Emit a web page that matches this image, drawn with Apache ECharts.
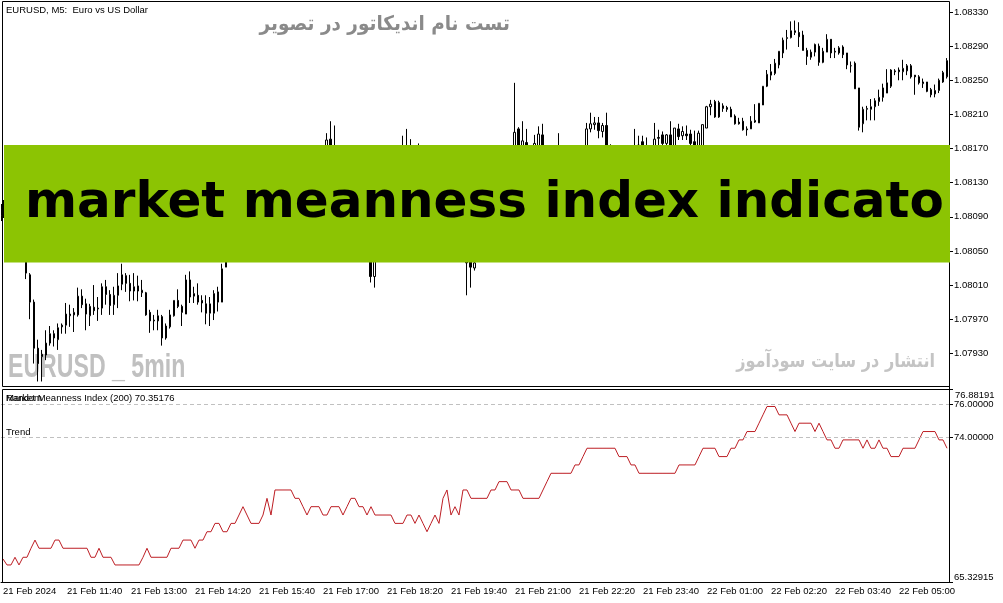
<!DOCTYPE html>
<html><head><meta charset="utf-8">
<script src="https://cdn.jsdelivr.net/npm/echarts@6/dist/echarts.min.js"></script>
<style>html,body{margin:0;padding:0;background:#fff}#c{width:1003px;height:603px}</style>
</head><body><div id="c"></div>
<script>
// ---- data (EURUSD M5, 237 bars from 21 Feb 10:20) ----
const opens = [
1.08098,1.08092,1.08100,1.08094,1.08085,1.08078,1.08068,1.08022,1.07990,1.07936,
1.07926,1.07928,1.07942,1.07953,1.07946,1.07961,1.07963,1.07974,1.07975,1.07975,
1.07997,1.07988,1.07974,1.07984,1.07982,1.07983,1.08008,1.07999,1.07987,1.07998,
1.08011,1.08021,1.08012,1.08003,1.08009,1.08001,1.08001,1.07978,1.07968,1.07968,
1.07973,1.07948,1.07961,1.07974,1.07992,1.07985,1.07976,1.08016,1.07997,1.07998,
1.07992,1.07988,1.07977,1.07977,1.07990,1.07990,1.08031,1.08066,1.08078,1.08090,
1.08086,1.08100,1.08108,1.08102,1.08112,1.08120,1.08114,1.08124,1.08130,1.08122,
1.08128,1.08136,1.08130,1.08138,1.08144,1.08136,1.08142,1.08150,1.08146,1.08155,
1.08160,1.08168,1.08181,1.08165,1.08150,1.08140,1.08126,1.08118,1.08104,1.08096,
1.08080,1.08072,1.08058,1.08020,1.08045,1.08060,1.08075,1.08090,1.08108,1.08125,
1.08140,1.08155,1.08166,1.08156,1.08160,1.08150,1.08140,1.08130,1.08122,1.08110,
1.08102,1.08092,1.08084,1.08076,1.08070,1.08064,1.08060,1.08045,1.08030,1.08042,
1.08055,1.08070,1.08086,1.08100,1.08112,1.08125,1.08134,1.08145,1.08155,1.08193,
1.08160,1.08177,1.08168,1.08162,1.08170,1.08186,1.08160,1.08150,1.08140,1.08148,
1.08156,1.08146,1.08138,1.08130,1.08140,1.08150,1.08158,1.08193,1.08198,1.08200,
1.08190,1.08197,1.08160,1.08152,1.08144,1.08150,1.08142,1.08150,1.08158,1.08164,
1.08178,1.08166,1.08160,1.08168,1.08183,1.08186,1.08176,1.08186,1.08165,1.08193,
1.08185,1.08187,1.08187,1.08178,1.08165,1.08165,1.08194,1.08219,1.08225,1.08207,
1.08220,1.08218,1.08216,1.08208,1.08201,1.08202,1.08193,1.08193,1.08201,1.08200,
1.08221,1.08243,1.08256,1.08258,1.08268,1.08282,1.08299,1.08300,1.08306,1.08306,
1.08303,1.08285,1.08277,1.08283,1.08290,1.08271,1.08283,1.08298,1.08284,1.08282,
1.08289,1.08282,1.08267,1.08270,1.08241,1.08199,1.08216,1.08216,1.08219,1.08225,
1.08230,1.08235,1.08243,1.08261,1.08262,1.08260,1.08261,1.08267,1.08256,1.08254,
1.08246,1.08248,1.08239,1.08234,1.08238,1.08248,1.08254];
const closes = [
1.08092,1.08100,1.08094,1.08085,1.08078,1.08068,1.08024,1.07990,1.07936,1.07918,
1.07929,1.07942,1.07953,1.07948,1.07960,1.07963,1.07976,1.07976,1.07978,1.07997,
1.07987,1.07976,1.07985,1.07980,1.07983,1.08008,1.07999,1.07986,1.07998,1.08009,
1.08022,1.08012,1.08003,1.08008,1.08003,1.08004,1.07975,1.07968,1.07969,1.07974,
1.07948,1.07962,1.07975,1.07992,1.07985,1.07978,1.08016,1.07996,1.08000,1.07990,
1.07989,1.07977,1.07988,1.08000,1.08002,1.08029,1.08066,1.08078,1.08090,1.08086,
1.08100,1.08108,1.08102,1.08112,1.08120,1.08114,1.08124,1.08130,1.08122,1.08128,
1.08136,1.08130,1.08138,1.08144,1.08136,1.08142,1.08150,1.08146,1.08155,1.08160,
1.08168,1.08180,1.08165,1.08150,1.08140,1.08126,1.08118,1.08104,1.08096,1.08080,
1.08072,1.08058,1.08020,1.08045,1.08060,1.08075,1.08090,1.08108,1.08125,1.08140,
1.08155,1.08166,1.08156,1.08160,1.08150,1.08140,1.08130,1.08122,1.08110,1.08102,
1.08092,1.08084,1.08076,1.08070,1.08064,1.08060,1.08036,1.08031,1.08036,1.08055,
1.08070,1.08086,1.08100,1.08112,1.08125,1.08134,1.08145,1.08155,1.08189,1.08158,
1.08179,1.08168,1.08160,1.08176,1.08187,1.08160,1.08150,1.08140,1.08148,1.08156,
1.08146,1.08138,1.08130,1.08140,1.08150,1.08158,1.08193,1.08199,1.08200,1.08191,
1.08197,1.08160,1.08152,1.08144,1.08150,1.08142,1.08150,1.08158,1.08164,1.08174,
1.08166,1.08160,1.08168,1.08181,1.08182,1.08176,1.08186,1.08165,1.08194,1.08184,
1.08190,1.08185,1.08176,1.08168,1.08188,1.08198,1.08219,1.08222,1.08207,1.08224,
1.08217,1.08216,1.08207,1.08199,1.08199,1.08192,1.08192,1.08202,1.08203,1.08223,
1.08243,1.08257,1.08260,1.08270,1.08284,1.08297,1.08300,1.08308,1.08308,1.08301,
1.08285,1.08278,1.08283,1.08292,1.08271,1.08284,1.08298,1.08282,1.08283,1.08288,
1.08280,1.08268,1.08267,1.08240,1.08195,1.08216,1.08217,1.08219,1.08226,1.08230,
1.08241,1.08247,1.08262,1.08260,1.08260,1.08264,1.08267,1.08254,1.08254,1.08247,
1.08248,1.08237,1.08233,1.08238,1.08250,1.08259,1.08273];
const lows = [
1.08085,1.08088,1.08086,1.08078,1.08070,1.08060,1.08017,1.07970,1.07918,1.07897,
1.07897,1.07922,1.07939,1.07938,1.07934,1.07953,1.07953,1.07961,1.07955,1.07973,
1.07983,1.07957,1.07962,1.07975,1.07968,1.07975,1.07987,1.07975,1.07975,1.07983,
1.08004,1.08002,1.07991,1.07992,1.07991,1.07996,1.07974,1.07954,1.07957,1.07957,
1.07939,1.07946,1.07959,1.07973,1.07983,1.07962,1.07976,1.07989,1.07989,1.07987,
1.07978,1.07964,1.07962,1.07969,1.07979,1.07990,1.08031,1.08060,1.08072,1.08080,
1.08082,1.08094,1.08096,1.08098,1.08106,1.08108,1.08110,1.08118,1.08116,1.08115,
1.08122,1.08124,1.08126,1.08132,1.08130,1.08130,1.08136,1.08140,1.08140,1.08148,
1.08152,1.08160,1.08155,1.08142,1.08132,1.08120,1.08110,1.08098,1.08090,1.08074,
1.08064,1.08050,1.08013,1.08007,1.08042,1.08054,1.08070,1.08086,1.08102,1.08120,
1.08135,1.08150,1.08148,1.08150,1.08142,1.08134,1.08124,1.08115,1.08104,1.08096,
1.08086,1.08078,1.08070,1.08062,1.08056,1.08050,1.07998,1.08007,1.08027,1.08040,
1.08050,1.08066,1.08080,1.08094,1.08106,1.08118,1.08128,1.08140,1.08150,1.08150,
1.08152,1.08160,1.08150,1.08156,1.08165,1.08152,1.08142,1.08134,1.08136,1.08142,
1.08140,1.08130,1.08124,1.08126,1.08134,1.08144,1.08152,1.08189,1.08192,1.08182,
1.08183,1.08152,1.08144,1.08138,1.08136,1.08134,1.08136,1.08144,1.08150,1.08158,
1.08158,1.08152,1.08154,1.08162,1.08170,1.08170,1.08172,1.08158,1.08160,1.08180,
1.08180,1.08180,1.08170,1.08160,1.08160,1.08160,1.08194,1.08209,1.08206,1.08206,
1.08213,1.08213,1.08207,1.08198,1.08198,1.08191,1.08185,1.08193,1.08200,1.08200,
1.08221,1.08242,1.08250,1.08256,1.08264,1.08276,1.08286,1.08299,1.08303,1.08289,
1.08285,1.08268,1.08274,1.08278,1.08267,1.08270,1.08283,1.08276,1.08276,1.08280,
1.08276,1.08263,1.08259,1.08240,1.08191,1.08189,1.08203,1.08203,1.08203,1.08220,
1.08225,1.08235,1.08241,1.08256,1.08250,1.08250,1.08256,1.08252,1.08233,1.08245,
1.08241,1.08236,1.08230,1.08230,1.08235,1.08247,1.08252];
const highs = [
1.08105,1.08108,1.08106,1.08098,1.08090,1.08082,1.08070,1.08024,1.07993,1.07946,
1.07934,1.07957,1.07962,1.07957,1.07965,1.07965,1.07989,1.07987,1.07983,1.08007,
1.08005,1.07994,1.07988,1.08010,1.07996,1.08012,1.08016,1.08004,1.08008,1.08024,
1.08035,1.08024,1.08022,1.08024,1.08021,1.08016,1.08002,1.07981,1.07975,1.07981,
1.07975,1.07965,1.07981,1.07992,1.08005,1.07987,1.08022,1.08026,1.08008,1.08012,
1.07998,1.07998,1.07996,1.08004,1.08008,1.08035,1.08072,1.08085,1.08096,1.08098,
1.08106,1.08114,1.08115,1.08118,1.08126,1.08128,1.08132,1.08138,1.08136,1.08134,
1.08142,1.08144,1.08146,1.08150,1.08152,1.08150,1.08156,1.08158,1.08162,1.08166,
1.08170,1.08188,1.08202,1.08197,1.08160,1.08146,1.08132,1.08124,1.08110,1.08100,
1.08086,1.08078,1.08062,1.08052,1.08066,1.08080,1.08096,1.08114,1.08130,1.08146,
1.08185,1.08193,1.08181,1.08168,1.08176,1.08156,1.08146,1.08136,1.08128,1.08116,
1.08108,1.08098,1.08090,1.08082,1.08076,1.08070,1.08066,1.08055,1.08046,1.08062,
1.08076,1.08092,1.08106,1.08118,1.08130,1.08140,1.08152,1.08162,1.08247,1.08195,
1.08202,1.08193,1.08170,1.08186,1.08196,1.08199,1.08166,1.08156,1.08160,1.08188,
1.08164,1.08152,1.08144,1.08146,1.08156,1.08166,1.08200,1.08212,1.08207,1.08207,
1.08200,1.08212,1.08175,1.08158,1.08156,1.08158,1.08156,1.08164,1.08193,1.08185,
1.08185,1.08183,1.08171,1.08200,1.08192,1.08190,1.08187,1.08202,1.08194,1.08199,
1.08196,1.08197,1.08192,1.08191,1.08191,1.08198,1.08220,1.08227,1.08227,1.08226,
1.08223,1.08220,1.08219,1.08210,1.08206,1.08206,1.08196,1.08208,1.08222,1.08223,
1.08243,1.08262,1.08269,1.08275,1.08284,1.08300,1.08309,1.08319,1.08320,1.08318,
1.08308,1.08288,1.08286,1.08293,1.08293,1.08288,1.08304,1.08298,1.08288,1.08290,
1.08291,1.08282,1.08272,1.08272,1.08241,1.08219,1.08220,1.08228,1.08229,1.08239,
1.08246,1.08263,1.08263,1.08263,1.08265,1.08274,1.08269,1.08269,1.08256,1.08256,
1.08252,1.08248,1.08241,1.08245,1.08252,1.08261,1.08276];
// Market Meanness Index (200)
const mmi = [
66.74,66.38,66.38,66.84,66.38,66.84,66.84,67.38,67.87,67.38,
67.38,67.38,67.38,67.87,67.87,67.38,67.38,67.38,67.38,67.38,
67.38,67.38,66.84,66.84,67.38,66.84,66.84,66.84,66.38,66.38,
66.38,66.38,66.38,66.38,66.38,66.84,67.38,66.84,66.84,66.84,
66.84,66.84,67.38,67.38,67.38,67.87,67.87,67.87,67.38,67.87,
67.87,68.37,68.37,68.87,68.87,68.37,68.37,68.87,68.87,69.37,
69.87,69.37,68.87,68.87,68.87,69.37,70.37,69.37,70.87,70.87,
70.87,70.87,70.87,70.37,70.37,69.87,69.37,69.87,69.87,69.87,
69.37,69.37,69.87,69.87,69.87,69.37,69.87,70.37,70.37,69.87,
69.87,69.37,69.87,69.37,69.37,69.37,69.37,69.37,68.87,68.87,
68.87,69.37,69.37,68.87,69.37,68.87,68.37,68.87,69.37,68.87,
70.37,70.87,69.37,69.87,69.37,70.87,70.87,70.37,70.37,70.37,
70.37,70.37,70.87,70.87,71.37,71.37,71.37,70.87,70.87,70.87,
70.37,70.37,70.37,70.37,70.37,70.87,71.37,71.87,71.87,71.87,
71.87,71.87,71.87,72.37,72.37,72.87,73.37,73.37,73.37,73.37,
73.37,73.37,73.37,73.37,72.87,72.87,72.87,72.37,72.37,71.87,
71.87,71.87,71.87,71.87,71.87,71.87,71.87,71.87,71.87,72.37,
72.37,72.37,72.37,72.37,72.87,73.37,73.37,73.37,73.37,72.87,
72.87,72.87,73.37,73.37,73.87,73.87,74.37,74.37,74.37,74.87,
75.37,75.87,75.87,75.87,75.37,75.37,75.37,74.87,74.37,74.87,
74.87,74.87,74.87,74.37,74.87,74.37,73.87,73.87,73.37,73.37,
73.87,73.87,73.87,73.87,73.87,73.37,73.87,73.37,73.37,73.87,
73.37,73.37,72.87,72.87,72.87,73.37,73.37,73.37,73.37,73.87,
74.37,74.37,74.37,74.37,73.87,73.87,73.37];
const tickLabels = ['21 Feb 2024','21 Feb 11:40','21 Feb 13:00','21 Feb 14:20','21 Feb 15:40',
  '21 Feb 17:00','21 Feb 18:20','21 Feb 19:40','21 Feb 21:00','21 Feb 22:20','21 Feb 23:40',
  '22 Feb 01:00','22 Feb 02:20','22 Feb 03:40','22 Feb 05:00'];
const priceTicks = [1.07930,1.07970,1.08010,1.08050,1.08090,1.08130,1.08170,1.08210,1.08250,1.08290,1.08330];
const mmiMin = 65.32915, mmiMax = 76.88191;
const mmiLabels = [mmiMin, 74.0, 76.0];
const levels = [76, 74];

// ---- chart ----
const cats = opens.map((_, i) => String(i));
const candles = opens.map((o, i) => [o, closes[i], lows[i], highs[i]]);
const AX = '"Liberation Sans", Arial, sans-serif';
const chart = echarts.init(document.getElementById('c'));
const L = (x1,y1,x2,y2) => ({type:'line', z:10, shape:{x1,y1,x2,y2}, style:{stroke:'#000', lineWidth:1}});
chart.setOption({
  animation:false,
  backgroundColor:'#fff',
  grid:[{left:0, top:1, width:949, height:385},{left:0, top:389.6, width:949, height:192.9}],
  xAxis:[
    {type:'category', gridIndex:0, data:cats, boundaryGap:true, show:false},
    {type:'category', gridIndex:1, data:cats, boundaryGap:true,
     axisLine:{lineStyle:{color:'#000', width:1}},
     axisTick:{alignWithLabel:true, interval:15, length:5, lineStyle:{color:'#000'}},
     axisLabel:{interval:15, align:'left', margin:4, color:'#000', fontFamily:AX, fontSize:9.5,
       formatter:(v, i) => (i % 16 === 0 ? (tickLabels[i/16] || '') : '')},
     splitLine:{show:false}}
  ],
  yAxis:[
    {type:'value', gridIndex:0, position:'right', min:1.078917, max:1.083429,
     axisLine:{show:false},
     axisTick:{show:true, length:4, customValues:priceTicks, lineStyle:{color:'#000'}},
     axisLabel:{customValues:priceTicks, formatter:v => v.toFixed(5), margin:5, color:'#000', fontFamily:AX, fontSize:9.5},
     splitLine:{show:false}},
    {type:'value', gridIndex:1, position:'right', min:mmiMin, max:mmiMax,
     axisLine:{show:false},
     axisTick:{show:true, length:4, customValues:mmiLabels.concat([mmiMax]), lineStyle:{color:'#000'}},
     axisLabel:{customValues:mmiLabels, formatter:v => v.toFixed(5), margin:5, color:'#000', fontFamily:AX, fontSize:9.5,
       showMinLabel:true, hideOverlap:false, verticalAlignMinLabel:'bottom'},
     splitLine:{show:false}}
  ],
  series:[
    {type:'candlestick', xAxisIndex:0, yAxisIndex:0, data:candles, barWidth:2,
     itemStyle:{color:'#ffffff', color0:'#000000', borderColor:'#000000', borderColor0:'#000000', borderWidth:1}},
    {type:'line', xAxisIndex:1, yAxisIndex:1, data:mmi, symbol:'none', silent:true,
     lineStyle:{color:'#bd1e24', width:1},
     markLine:{silent:true, symbol:'none', label:{show:false},
       lineStyle:{type:[4,3], color:'#c0c0c0', width:1},
       data:levels.map(v => ({yAxis:v}))}}
  ],
  graphic:[
    // watermarks (behind candles)
    {type:'text', z:0, style:{text:'EURUSD, M5:  Euro vs US Dollar', x:6, y:10, font:'9.5px "Liberation Sans", Arial, sans-serif', fill:'#000', textVerticalAlign:'middle', verticalAlign:'middle'}},
    {type:'text', z:0, x:510, y:25, scaleX:0.92, style:{text:'تست نام اندیکاتور در تصویر', x:0, y:0, font:'bold 20px "DejaVu Sans", sans-serif', fill:'#8a8a8a', textAlign:'right', align:'right', textVerticalAlign:'middle', verticalAlign:'middle'}},
    {type:'text', z:0, x:935, y:362, scaleX:0.85, style:{text:'انتشار در سایت سودآموز', x:0, y:0, font:'bold 19px "DejaVu Sans", sans-serif', fill:'#c4c4c4', textAlign:'right', align:'right', textVerticalAlign:'middle', verticalAlign:'middle'}},
    {type:'text', z:0, x:8, y:368, scaleX:0.68, style:{text:'EURUSD _ 5min', x:0, y:0, font:'bold 34px "Liberation Sans", Arial, sans-serif', fill:'#c0c0c0', textVerticalAlign:'middle', verticalAlign:'middle'}},
    // indicator top-scale label (max of the pane)
    {type:'text', z:10, style:{text:mmiMax.toFixed(5), x:955, y:395, font:'9.5px "Liberation Sans", Arial, sans-serif', fill:'#000', textVerticalAlign:'middle', verticalAlign:'middle'}},
    // indicator labels
    {type:'text', z:10, style:{text:'Random', x:6, y:398, font:'9.5px "Liberation Sans", Arial, sans-serif', fill:'#000', textVerticalAlign:'middle', verticalAlign:'middle'}},
    {type:'text', z:10, style:{text:'Market Meanness Index (200) 70.35176', x:6, y:398, font:'9.5px "Liberation Sans", Arial, sans-serif', fill:'#000', textVerticalAlign:'middle', verticalAlign:'middle'}},
    {type:'text', z:10, style:{text:'Trend', x:6, y:432, font:'9.5px "Liberation Sans", Arial, sans-serif', fill:'#000', textVerticalAlign:'middle', verticalAlign:'middle'}},
    // frames
    L(2.5,1.5,949.5,1.5), L(2.5,1.5,2.5,386.5), L(2.5,386.5,949.5,386.5),
    L(2.5,389.5,949.5,389.5), L(2.5,389.5,2.5,582.5), L(949.5,1.5,949.5,582.5),
    // banner
    {type:'rect', z:20, shape:{x:4, y:145, width:946, height:117.5}, style:{fill:'#8cc403'}},
    {type:'rect', z:21, shape:{x:2, y:200, width:2, height:18}, style:{fill:'#000'}},
    {type:'text', z:21, style:{text:'market meanness index indicator', x:25, y:204, width:926, overflow:'truncate', ellipsis:'',
      font:'bold 50px "DejaVu Sans", sans-serif', fill:'#000', textVerticalAlign:'middle', verticalAlign:'middle'}}
  ]
});
</script></body></html>
